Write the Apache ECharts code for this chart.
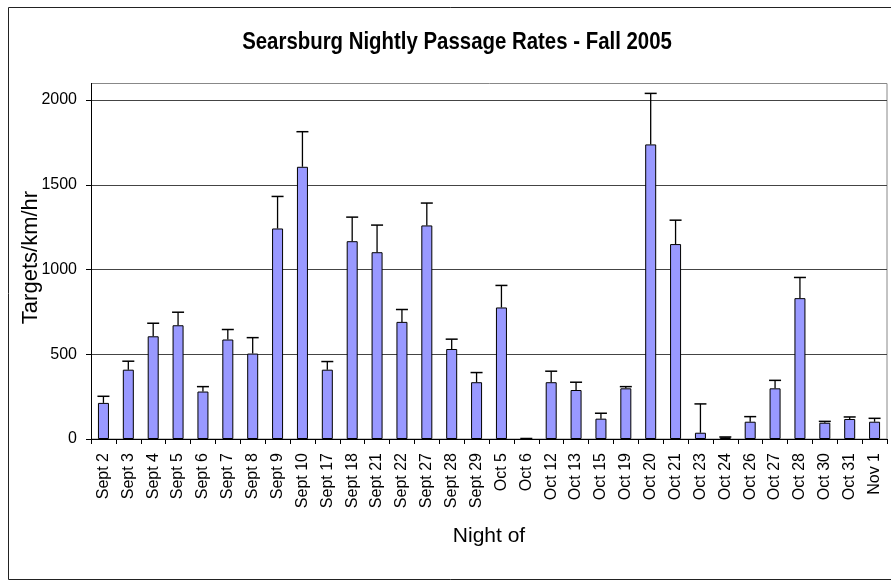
<!DOCTYPE html>
<html>
<head>
<meta charset="utf-8">
<script src="https://cdn.jsdelivr.net/npm/echarts@6/dist/echarts.min.js"></script>
<style>html,body{margin:0;padding:0;background:#fff;}#c{width:891px;height:582px;}</style>
</head>
<body>
<div id="c"></div>
<script>
const titleText = 'Searsburg Nightly Passage Rates - Fall 2005';
const categories = ['Sept 2','Sept 3','Sept 4','Sept 5','Sept 6','Sept 7','Sept 8','Sept 9','Sept 10','Sept 17','Sept 18','Sept 21','Sept 22','Sept 27','Sept 28','Sept 29','Oct 5','Oct 6','Oct 12','Oct 13','Oct 15','Oct 19','Oct 20','Oct 21','Oct 23','Oct 24','Oct 26','Oct 27','Oct 28','Oct 30','Oct 31','Nov 1'];
const rates = [213,409,606,671,280,587,504,1242,1606,409,1167,1102,691,1260,531,335,776,2,335,289,120,299,1738,1150,37,10,102,299,831,96,118,102];
const errorTop = [252,459,683,748,309,646,598,1431,1813,457,1309,1262,764,1392,589,392,906,3,400,335,152,309,2039,1291,207,12,132,346,953,104,130,122];
const yTicks = [0,500,1000,1500,2000];

const chart = echarts.init(document.getElementById('c'), null, {renderer:'canvas'});
const errData = categories.map((c,i)=>[i, rates[i], errorTop[i]]);
const font = 'Liberation Sans, Arial, sans-serif';
chart.setOption({
  animation:false,
  backgroundColor:'#fff',
  grid:{left:91, right:4, top:100, bottom:143},
  graphic:[
    {type:'rect', shape:{x:8.5,y:7.5,width:900,height:572}, style:{fill:null, stroke:'#222', lineWidth:1}, silent:true, z:-1},
    {type:'rect', shape:{x:91.5,y:83.5,width:795.5,height:355.5}, style:{fill:null, stroke:'#888', lineWidth:1}, silent:true, z:-1},
    {type:'line', shape:{x1:91.5,y1:83,x2:91.5,y2:101}, style:{stroke:'#000', lineWidth:1}, silent:true},
    {type:'text', x:457, y:42, scaleX:0.85, silent:true,
      style:{text:titleText, align:'center', verticalAlign:'middle', fill:'#000',
        font:'bold 24px "Liberation Sans", Arial, sans-serif'}}
  ],
  xAxis:{type:'category', data:categories,
    name:'Night of', nameLocation:'middle', nameGap:87, nameMoveOverlap:false,
    nameTextStyle:{fontFamily:font, fontSize:21, color:'#000'},
    axisLine:{lineStyle:{color:'#000', width:1}},
    axisTick:{show:true, length:5, lineStyle:{color:'#000'}},
    axisLabel:{rotate:90, interval:0, fontFamily:font, fontSize:16, color:'#000', margin:14}},
  yAxis:{type:'value', min:0, max:2000, interval:500,
    name:'Targets/km/hr', nameLocation:'middle', nameGap:49, nameRotate:90, nameMoveOverlap:false,
    nameTextStyle:{fontFamily:font, fontSize:22, color:'#000', padding:[0,0,0,24]},
    axisLine:{show:true, lineStyle:{color:'#000', width:1}},
    axisTick:{show:true, length:5, lineStyle:{color:'#000'}},
    axisLabel:{fontFamily:font, fontSize:16, color:'#000', margin:14, formatter:function(v){return String(v);}},
    splitLine:{lineStyle:{color:'#444', width:1}}},
  series:[
    {type:'bar', data:rates, barWidth:11,
      itemStyle:{color:'#9999FF', borderColor:'#000', borderWidth:1}},
    {type:'custom', data:errData, z:10,
      renderItem:function(params, api){
        const x = api.value(0);
        const p0 = api.coord([x, api.value(1)]);
        const p1 = api.coord([x, api.value(2)]);
        const hw = 6;
        return {type:'group', children:[
          {type:'line', shape:{x1:p0[0], y1:p0[1], x2:p1[0], y2:p1[1]}, style:{stroke:'#000', lineWidth:1.3}},
          {type:'line', shape:{x1:p1[0]-hw, y1:p1[1], x2:p1[0]+hw, y2:p1[1]}, style:{stroke:'#000', lineWidth:1.5}}
        ]};
      }}
  ]
});
</script>
</body>
</html>
